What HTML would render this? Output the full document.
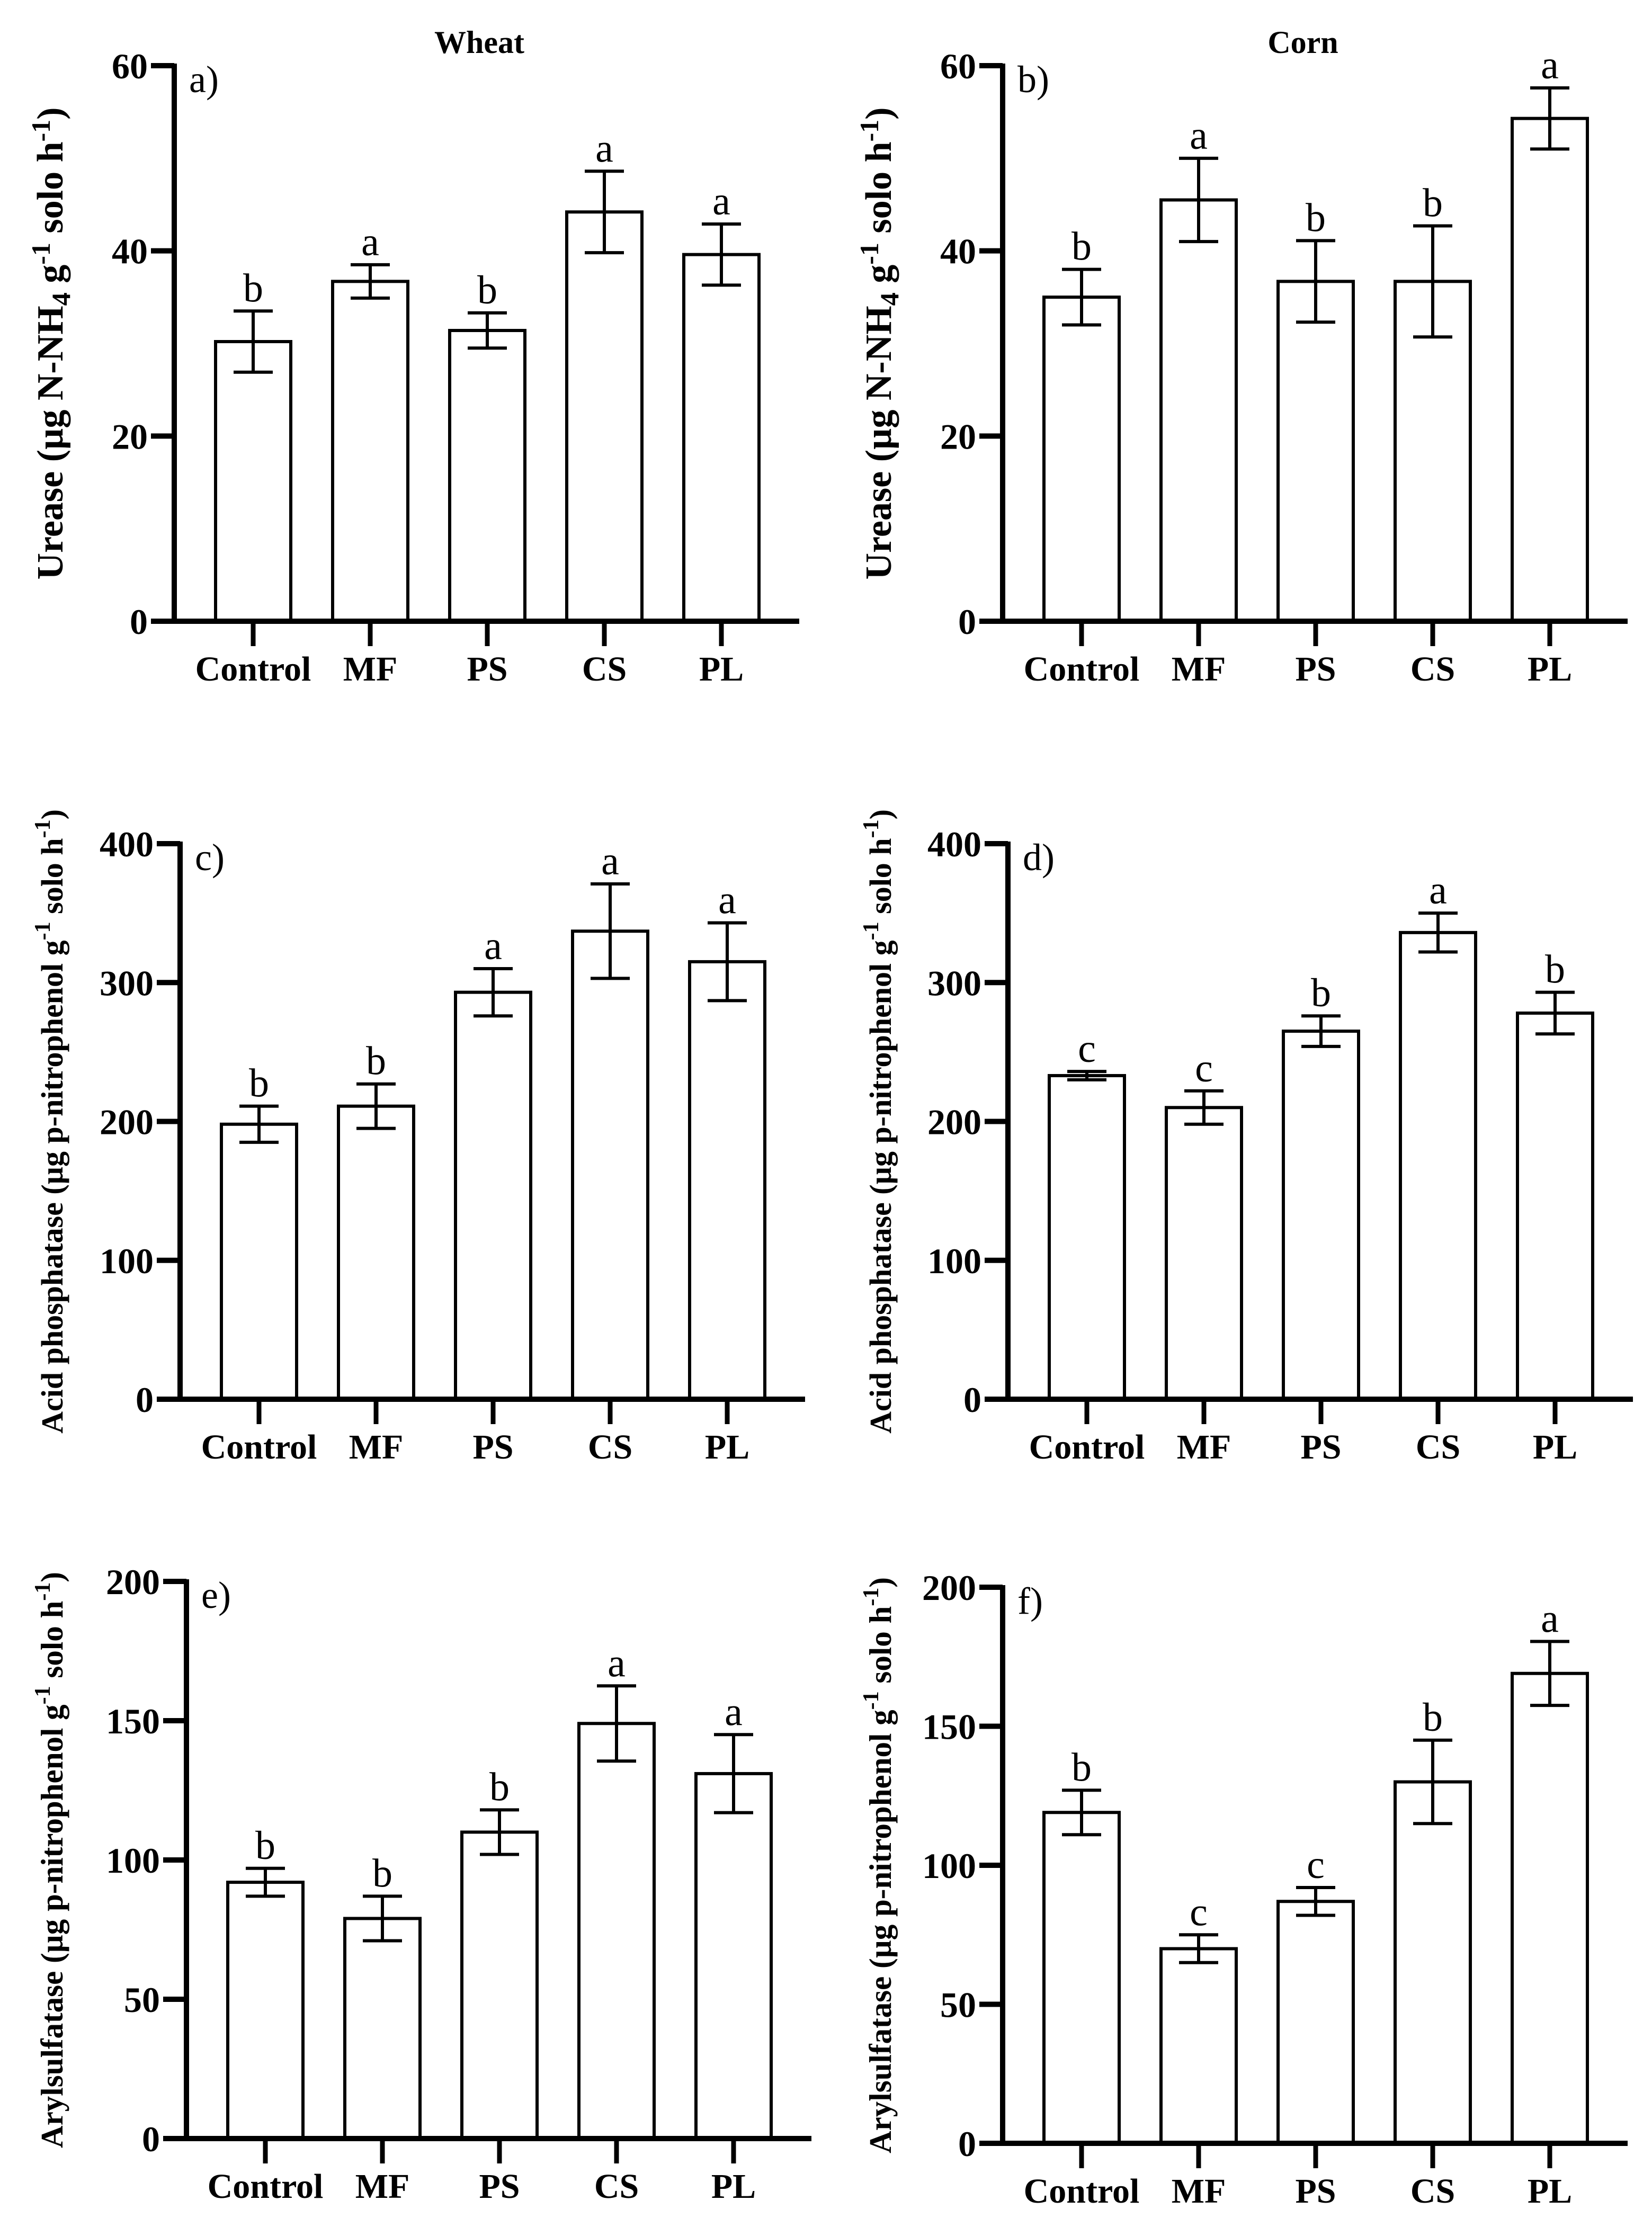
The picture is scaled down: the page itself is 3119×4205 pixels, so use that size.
<!DOCTYPE html>
<html><head><meta charset="utf-8"><style>
html,body{margin:0;padding:0;background:#fff}
svg{display:block}
text{font-family:"Liberation Serif",serif;fill:#000}
</style></head><body>
<svg id="fig" width="3119" height="4205" viewBox="0 0 3119 4205" xmlns="http://www.w3.org/2000/svg"></svg>
<script>
const categories = ["Control","MF","PS","CS","PL"];
const wheatUrease = [30.2,36.7,31.4,44.2,39.6];
const wheatUreaseErr = [3.3,1.8,1.9,4.4,3.3];
const wheatUreaseLetters = ["b","a","b","a","a"];
const cornUrease = [35,45.5,36.7,36.7,54.3];
const cornUreaseErr = [3,4.5,4.4,6,3.3];
const cornUreaseLetters = ["b","a","b","b","a"];
const wheatAcid = [198,211,293,337,315];
const wheatAcidErr = [13,16,17,34,28];
const wheatAcidLetters = ["b","b","a","a","a"];
const cornAcid = [233,210,265,336,278];
const cornAcidErr = [3,12,11,14,15];
const cornAcidLetters = ["c","c","b","a","b"];
const wheatAryl = [92,79,110,149,131];
const wheatArylErr = [5,8,8,13.5,14];
const wheatArylLetters = ["b","b","b","a","a"];
const cornAryl = [119,70,87,130,169];
const cornArylErr = [8,5,5,15,11.5];
const cornArylLetters = ["b","c","c","b","a"];
const ticksUrease = [0,20,40,60];
const ticksAcid = [0,100,200,300,400];
const ticksAryl = [0,50,100,150,200];

const NS="http://www.w3.org/2000/svg";
const svg=document.getElementById('fig');
function mk(tag,attrs,parent){const e=document.createElementNS(NS,tag);for(const k in attrs)e.setAttribute(k,attrs[k]);(parent||svg).appendChild(e);return e;}

function panel(id,ax,yTop,y0,yMax,ticks,vals,errs,letters,label,titleParts,titleX,titleSize){
  const g=mk('g',{});
  
  
  const yS=v=>y0-(v/yMax)*(y0-yTop);
  const xS=i=>ax+149+i*221;
  vals.forEach((v,i)=>{
    const r=mk('rect',{x:xS(i)-71,y:yS(v),width:142,height:y0-yS(v),fill:'#fff',stroke:'#000','stroke-width':6},g);
    
    
    const hi=yS(v+errs[i]),lo=yS(v-errs[i]);
    const eb=mk('path',{d:`M${xS(i)},${hi}V${lo}M${xS(i)-37},${hi}H${xS(i)+37}M${xS(i)-37},${lo}H${xS(i)+37}`,stroke:'#000','stroke-width':6,fill:'none'},g);
    
    
    const t=mk('text',{x:xS(i),y:hi-18,'font-size':76,'text-anchor':'middle'},g);
    t.textContent=letters[i];
    
    
    const ct=mk('text',{x:xS(i),y:y0+112,'font-size':66,'font-weight':'bold','text-anchor':'middle'},g);
    ct.textContent=categories[i];
    
    
    const tk=mk('line',{x1:xS(i),x2:xS(i),y1:y0,y2:y0+47,stroke:'#000','stroke-width':9},g);
    
    
  });
  const yax=mk('line',{x1:ax,x2:ax,y1:yTop-4,y2:y0+5,stroke:'#000','stroke-width':10},g);
  
  
  const xax=mk('line',{x1:ax-44,x2:ax+1180,y1:y0,y2:y0,stroke:'#000','stroke-width':10},g);
  
  
  ticks.forEach(v=>{
    const l=mk('line',{x1:ax-44,x2:ax,y1:yS(v),y2:yS(v),stroke:'#000','stroke-width':10},g);
    
    
    const t=mk('text',{x:ax-50,y:yS(v)+24,'font-size':68,'font-weight':'bold','text-anchor':'end'},g);
    t.textContent=v;
    
    
  });
  const pl=mk('text',{x:ax+28,y:yTop+50,'font-size':72},g);
  pl.textContent=label;
  
  
  const cy=(yTop+y0)/2;
  const tt=mk('text',{x:titleX,y:cy,'font-size':titleSize,'font-weight':'bold','text-anchor':'middle',transform:`rotate(-90 ${titleX} ${cy})`},g);
  
  
  const small=Math.round(titleSize*0.72);
  titleParts.forEach(p=>{
    const s=mk('tspan',{},tt);
    s.textContent=p[0];
    if(p[1]==='sub'){s.setAttribute('dy',14);s.setAttribute('font-size',small);}
    else if(p[1]==='sup'){s.setAttribute('dy',-24);s.setAttribute('font-size',small);}
    else if(p[1]==='up'){s.setAttribute('dy',-14);}
    else if(p[1]==='down'){s.setAttribute('dy',24);}
  });
}
const ureaseTitle=[["Urease (µg N-NH"],["4","sub"],[" g","up"],["-1","sup"],[" solo h","down"],["-1","sup"],[")","down"]];
const acidTitle=[["Acid phosphatase (µg p-nitrophenol g"],["-1","sup"],[" solo h","down"],["-1","sup"],[")","down"]];
const arylTitle=[["Arylsulfatase (µg p-nitrophenol g"],["-1","sup"],[" solo h","down"],["-1","sup"],[")","down"]];

panel('a',329,124,1173,60,ticksUrease,wheatUrease,wheatUreaseErr,wheatUreaseLetters,'a)',ureaseTitle,118,70);
panel('b',1893,124,1173,60,ticksUrease,cornUrease,cornUreaseErr,cornUreaseLetters,'b)',ureaseTitle,1682,70);
panel('c',340,1593,2642,400,ticksAcid,wheatAcid,wheatAcidErr,wheatAcidLetters,'c)',acidTitle,118,58);
panel('d',1903,1593,2642,400,ticksAcid,cornAcid,cornAcidErr,cornAcidLetters,'d)',acidTitle,1682,58);
panel('e',352,2986,4038,200,ticksAryl,wheatAryl,wheatArylErr,wheatArylLetters,'e)',arylTitle,118,59);
panel('f',1893,2997,4047,200,ticksAryl,cornAryl,cornArylErr,cornArylLetters,'f)',arylTitle,1682,59);

const w=mk('text',{x:905,y:100,'font-size':60,'font-weight':'bold','text-anchor':'middle'});
w.textContent='Wheat';


const c=mk('text',{x:2460,y:100,'font-size':60,'font-weight':'bold','text-anchor':'middle'});
c.textContent='Corn';


</script>
</body></html>
